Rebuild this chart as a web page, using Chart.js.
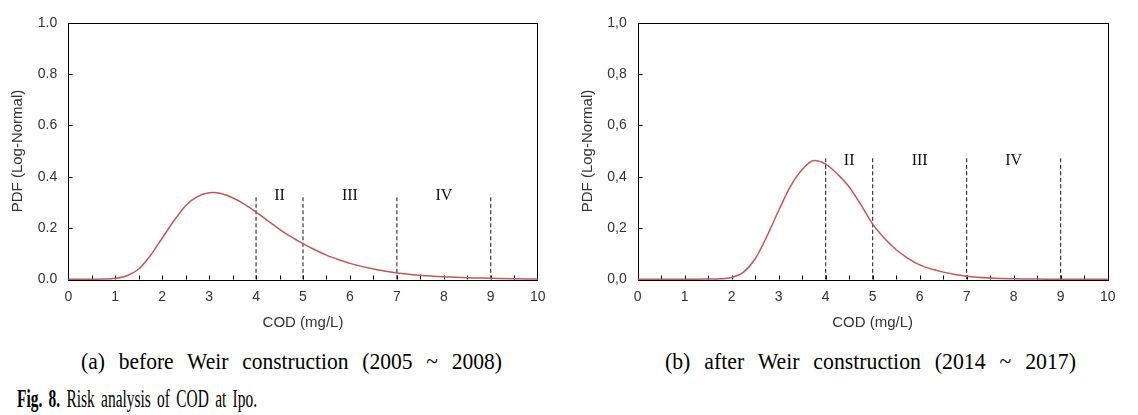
<!DOCTYPE html>
<html>
<head>
<meta charset="utf-8">
<script src="https://cdn.jsdelivr.net/npm/chart.js@4/dist/chart.umd.min.js"></script>
<style>
  body{margin:0;background:#fff;width:1138px;height:415px;overflow:hidden;position:relative}
  canvas{position:absolute;top:0}
  #chartA{left:0}
  #chartB{left:570px}
  .cap{position:absolute;white-space:nowrap;font-family:"Liberation Serif","Times New Roman",serif;color:#000;transform-origin:0 0}
  #capA{left:81px;top:350px;font-size:23px;line-height:23px;word-spacing:9px}
  #capB{left:665px;top:350px;font-size:23px;line-height:23px;word-spacing:9px}
  #capFig{left:17px;top:386px;font-size:25px;line-height:25px;word-spacing:4px}
</style>
</head>
<body>
<canvas id="chartA" width="570" height="340"></canvas>
<canvas id="chartB" width="568" height="340"></canvas>
<div class="cap" id="capA">(a) before Weir construction (2005 ~ 2008)</div>
<div class="cap" id="capB">(b) after Weir construction (2014 ~ 2017)</div>
<div class="cap" id="capFig"><b>Fig. 8.</b> Risk analysis of COD at Ipo.</div>
<script>
// data
const codA=[0,0.5,0.75,1,1.25,1.5,1.75,2,2.25,2.5,2.75,3,3.1,3.25,3.5,3.75,4,4.25,4.5,4.75,5,5.25,5.5,5.75,6,6.5,7,7.5,8,8.5,9,9.5,10]
const pdfA=[0,0,0.001,0.004,0.014,0.04,0.093,0.16,0.228,0.287,0.322,0.337,0.338,0.334,0.318,0.293,0.262,0.228,0.195,0.165,0.139,0.115,0.094,0.077,0.062,0.04,0.025,0.016,0.01,0.006,0.004,0.002,0.001]

const codB=[0,0.5,1,1.5,1.75,2,2.25,2.5,2.75,3,3.25,3.5,3.75,4,4.25,4.5,4.75,5,5.25,5.5,5.75,6,6.25,6.5,6.75,7,7.5,8,8.5,9,9.5,10]
const pdfB=[0,0,0,0.001,0.002,0.007,0.028,0.08,0.168,0.268,0.362,0.428,0.463,0.449,0.41,0.36,0.29,0.215,0.16,0.115,0.082,0.056,0.04,0.028,0.019,0.012,0.005,0.002,0.001,0,0,0]

const gradeBounds=[4,5,7,9]
const boundTopA=0.33
const boundTopB=0.48
const gradeNames=["II","III","IV"]
const gradeCenters=[4.5,6,8]
const gradeLabelYA=0.326
const gradeLabelYB=0.46

const xTitle="COD (mg/L)"
const yTitle="PDF (Log-Normal)"

//PLUGINS
const frame={
    id:"frame",
    beforeDatasetsDraw(chart){
        const {ctx,chartArea:a,scales}=chart
        ctx.save()
        ctx.strokeStyle="#000"
        ctx.lineWidth=1
        ctx.strokeRect(Math.round(a.left)+0.5,Math.round(a.top)+0.5,Math.round(a.right-a.left),Math.round(a.bottom-a.top))
        // inward ticks
        ctx.beginPath()
        const b=Math.round(a.bottom)+0.5
        for(let v=0.5;v<10;v+=0.5){
            const x=Math.round(scales.x.getPixelForValue(v))+0.5
            ctx.moveTo(x,b);ctx.lineTo(x,b-4)
        }
        const l=Math.round(a.left)+0.5
        for(let v=0.2;v<1;v+=0.2){
            const y=Math.round(scales.y.getPixelForValue(v))+0.5
            ctx.moveTo(l,y);ctx.lineTo(l+4,y)
        }
        ctx.stroke()
        ctx.restore()
    },
    afterDatasetsDraw(chart,args,opts){
        const {ctx,scales}=chart
        ctx.save()
        ctx.fillStyle="#111"
        ctx.font="16px 'Liberation Serif', serif"
        ctx.textAlign="center"
        ctx.textBaseline="middle"
        gradeNames.forEach((g,i)=>{
            ctx.fillText(g,scales.x.getPixelForValue(gradeCenters[i]),scales.y.getPixelForValue(opts.labelY))
        })
        ctx.restore()
    }
}

function boundSets(top){
    return gradeBounds.map(b=>({
        data:[{x:b,y:0},{x:b,y:top}],
        borderColor:"#111",
        borderWidth:1,
        borderDash:[4,2.5],
        pointRadius:0,
        showLine:true,
        clip:false
    }))
}

function makeChart(el,xs,ys,top,labelY,sep,axisW,padRight){
    const curve={
        data:xs.map((x,i)=>({x,y:ys[i]})),
        borderColor:"rgb(194,88,88)",
        borderWidth:1.5,
        pointRadius:0,
        showLine:true,
        cubicInterpolationMode:"monotone",
        clip:false
    }
    const tickFont={family:"'Liberation Sans', Arial, sans-serif",size:14}
    return new Chart(el,{
        type:"scatter",
        data:{datasets:[curve,...boundSets(top)]},
        options:{
            responsive:false,
            animation:false,
            devicePixelRatio:1,
            layout:{padding:{left:0,top:22.7,right:padRight,bottom:0}},
            plugins:{legend:{display:false},tooltip:{enabled:false},frame:{labelY}},
            scales:{
                x:{
                    type:"linear",min:0,max:10,
                    grid:{display:false,drawTicks:false},
                    border:{display:false},
                    ticks:{stepSize:1,padding:9,color:"#333",font:tickFont,maxRotation:0},
                    title:{display:true,text:xTitle,color:"#333",font:{family:"'Liberation Sans', Arial, sans-serif",size:15},padding:{top:0,bottom:8}},
                    afterFit(s){s.height=340-279.3}
                },
                y:{
                    type:"linear",min:0,max:1,
                    grid:{display:false,drawTicks:false},
                    border:{display:false},
                    ticks:{stepSize:0.2,padding:11,color:"#333",font:tickFont,
                        callback:v=>v.toFixed(1).replace(".",sep)},
                    title:{display:true,text:yTitle,color:"#333",font:{family:"'Liberation Sans', Arial, sans-serif",size:15},padding:{top:9,bottom:0}},
                    afterFit(s){s.width=axisW}
                }
            }
        },
        plugins:[frame]
    })
}

makeChart(document.querySelector("#chartA"),codA,pdfA,boundTopA,gradeLabelYA,".",68.3,32.3)
makeChart(document.querySelector("#chartB"),codB,pdfB,boundTopB,gradeLabelYB,",",67.7,30.3)

// squeeze captions to the narrow serif widths of the figure
function fitWidth(id,w){
    const el=document.getElementById(id)
    const real=el.getBoundingClientRect().width
    el.style.transform="scaleX("+(w/real)+")"
}
fitWidth("capA",421)
fitWidth("capB",411)
fitWidth("capFig",240)
</script>
</body>
</html>
